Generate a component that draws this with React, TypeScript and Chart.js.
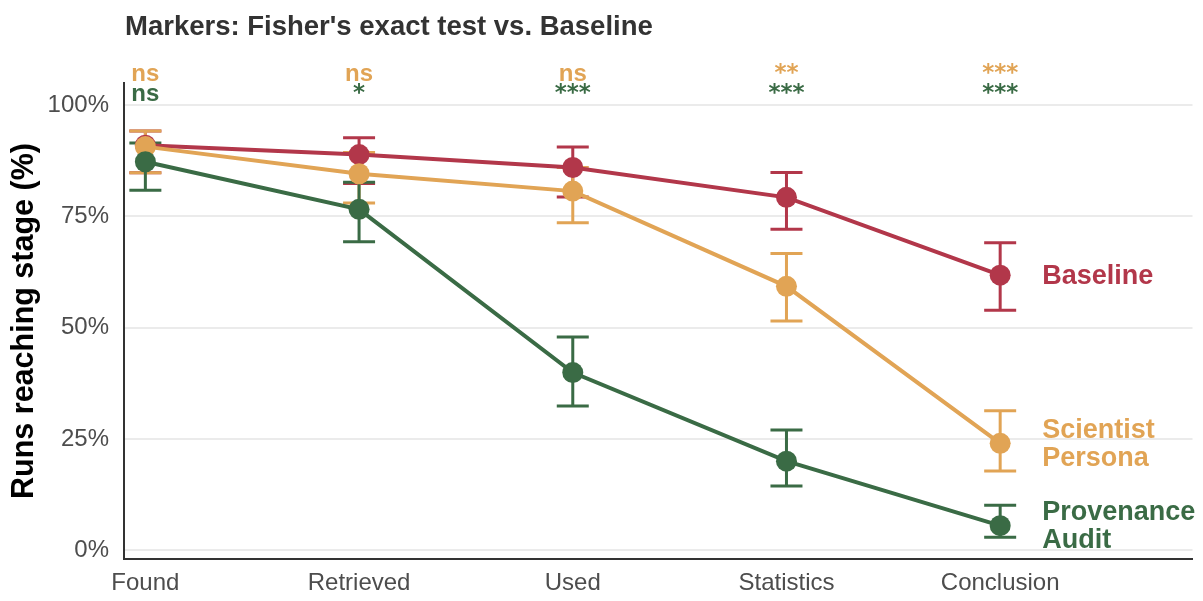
import React, { useEffect, useRef } from "react";
import { Chart, registerables } from "chart.js";

Chart.register(...registerables);

// Funnel stages along the x axis
const stages = ["Found", "Retrieved", "Used", "Statistics", "Conclusion"];

// Share of runs reaching each stage (%), with 95% CI bounds
const baselineRate = [91.0, 88.9, 86.0, 79.3, 61.8];
const baselineLow = [84.8, 82.4, 79.4, 72.1, 53.9];
const baselineHigh = [94.2, 92.7, 90.6, 84.9, 69.1];

const scientistRate = [90.7, 84.6, 80.7, 59.3, 24.0];
const scientistLow = [84.8, 78.0, 73.6, 51.5, 17.8];
const scientistHigh = [94.2, 89.4, 86.0, 66.7, 31.3];

const provenanceRate = [87.3, 76.6, 39.9, 20.0, 5.5];
const provenanceLow = [80.9, 69.3, 32.4, 14.4, 2.9];
const provenanceHigh = [91.5, 82.7, 47.9, 27.0, 10.1];

// Fisher's exact test markers vs. Baseline, per stage
const scientistSig = ["ns", "ns", "ns", "**", "***"];
const provenanceSig = ["ns", "*", "***", "***", "***"];

const yTicks = [0, 25, 50, 75, 100];

const RED = "#B2374A";
const ORANGE = "#E1A455";
const GREEN = "#3A6B45";
const FONT = '"Liberation Sans", Arial, Helvetica, sans-serif';
const STAR_FONT = '"DejaVu Sans", "Liberation Sans", sans-serif';

const series = [
  { name: ["Baseline"], color: RED, rate: baselineRate, low: baselineLow, high: baselineHigh, order: 3 },
  { name: ["Scientist", "Persona"], color: ORANGE, rate: scientistRate, low: scientistLow, high: scientistHigh, order: 2 },
  { name: ["Provenance", "Audit"], color: GREEN, rate: provenanceRate, low: provenanceLow, high: provenanceHigh, order: 1 },
];

function drawMarker(ctx: CanvasRenderingContext2D, text: string, x: number, y: number) {
  // "ns" in the sans face, star codes in a face with larger asterisks
  ctx.font = text === "ns" ? `bold 24px ${FONT}` : `bold 23px ${STAR_FONT}`;
  ctx.fillText(text, x, text === "ns" ? y : y - 1);
}

const decorations = {
  id: "decorations",
  beforeDatasetsDraw(chart: any) {
    const { ctx, scales } = chart;
    const xs = scales.x;
    const ys = scales.y;
    ctx.save();
    ctx.lineWidth = 3;
    ctx.lineCap = "butt";
    for (const s of series) {
      ctx.strokeStyle = s.color;
      s.rate.forEach((_: number, i: number) => {
        const x = xs.getPixelForValue(i);
        const yl = ys.getPixelForValue(s.low[i]);
        const yh = ys.getPixelForValue(s.high[i]);
        ctx.beginPath();
        ctx.moveTo(x, yl);
        ctx.lineTo(x, yh);
        ctx.moveTo(x - 16, yl);
        ctx.lineTo(x + 16, yl);
        ctx.moveTo(x - 16, yh);
        ctx.lineTo(x + 16, yh);
        ctx.stroke();
      });
    }
    ctx.restore();
  },
  afterDraw(chart: any) {
    const { ctx, scales, chartArea } = chart;
    const xs = scales.x;
    const ys = scales.y;
    ctx.save();

    // Title
    ctx.fillStyle = "#333333";
    ctx.font = `bold 27.5px ${FONT}`;
    ctx.textAlign = "left";
    ctx.textBaseline = "alphabetic";
    ctx.fillText("Markers: Fisher's exact test vs. Baseline", chartArea.left + 1, 35);

    // Y axis title
    ctx.save();
    ctx.translate(33, (chartArea.top + chartArea.bottom) / 2);
    ctx.rotate(-Math.PI / 2);
    ctx.fillStyle = "#000000";
    ctx.font = `bold 30.5px ${FONT}`;
    ctx.textAlign = "center";
    ctx.fillText("Runs reaching stage (%)", 0, 0);
    ctx.restore();

    // Significance markers above each stage
    const top = ys.getPixelForValue(100);
    ctx.textAlign = "center";
    ctx.textBaseline = "alphabetic";
    stages.forEach((_, i) => {
      const x = xs.getPixelForValue(i);
      ctx.fillStyle = ORANGE;
      drawMarker(ctx, scientistSig[i], x, top - 24);
      ctx.fillStyle = GREEN;
      drawMarker(ctx, provenanceSig[i], x, top - 4);
    });

    // Series names at the end of each line
    ctx.font = `bold 27px ${FONT}`;
    ctx.textAlign = "left";
    ctx.textBaseline = "middle";
    const last = stages.length - 1;
    const lx = xs.getPixelForValue(last) + 42;
    for (const s of series) {
      const y = ys.getPixelForValue(s.rate[last]);
      const lh = 28;
      const y0 = y - ((s.name.length - 1) * lh) / 2;
      ctx.fillStyle = s.color;
      s.name.forEach((line: string, k: number) => ctx.fillText(line, lx, y0 + k * lh + 1));
    }
    ctx.restore();
  },
};

export default function App() {
  const canvasRef = useRef<HTMLCanvasElement | null>(null);

  useEffect(() => {
    if (!canvasRef.current) return;
    const chart = new Chart(canvasRef.current, {
      type: "line",
      data: {
        datasets: series.map((s) => ({
          label: s.name.join(" "),
          data: s.rate.map((v, i) => ({ x: i, y: v })),
          borderColor: s.color,
          backgroundColor: s.color,
          borderWidth: 4,
          pointRadius: 10.5,
          pointHoverRadius: 10.5,
          pointBorderWidth: 0,
          tension: 0,
          order: s.order,
        })),
      },
      options: {
        animation: false,
        responsive: true,
        maintainAspectRatio: false,
        layout: { padding: { top: 83, right: 6, left: 0, bottom: 0 } },
        plugins: {
          legend: { display: false },
          title: { display: false },
          tooltip: { enabled: false },
        },
        scales: {
          x: {
            type: "linear",
            min: -0.1,
            max: 4.9,
            afterBuildTicks: (scale: any) => {
              scale.ticks = stages.map((_, i) => ({ value: i }));
            },
            afterFit: (scale: any) => {
              scale.height = 42;
            },
            grid: { display: false, drawTicks: false },
            border: { display: true, color: "#333333", width: 2 },
            ticks: {
              autoSkip: false,
              maxRotation: 0,
              padding: 10,
              color: "#4D4D4D",
              font: { family: FONT, size: 24 },
              callback: (v: any) => stages[Number(v)] ?? "",
            },
          },
          y: {
            type: "linear",
            min: -2,
            max: 105,
            afterBuildTicks: (scale: any) => {
              scale.ticks = yTicks.map((v) => ({ value: v }));
            },
            afterFit: (scale: any) => {
              scale.width = 124;
            },
            grid: { color: "#EBEBEB", lineWidth: 2, drawTicks: false },
            border: { display: true, color: "#333333", width: 2 },
            ticks: {
              padding: 15,
              color: "#4D4D4D",
              font: { family: FONT, size: 24 },
              callback: (v: any) => `${v}%`,
            },
          },
        },
      },
      plugins: [decorations],
    });
    return () => chart.destroy();
  }, []);

  return (
    <div style={{ position: "absolute", left: 0, top: 0, width: 1203, height: 601, background: "#ffffff" }}>
      <canvas ref={canvasRef} />
    </div>
  );
}
